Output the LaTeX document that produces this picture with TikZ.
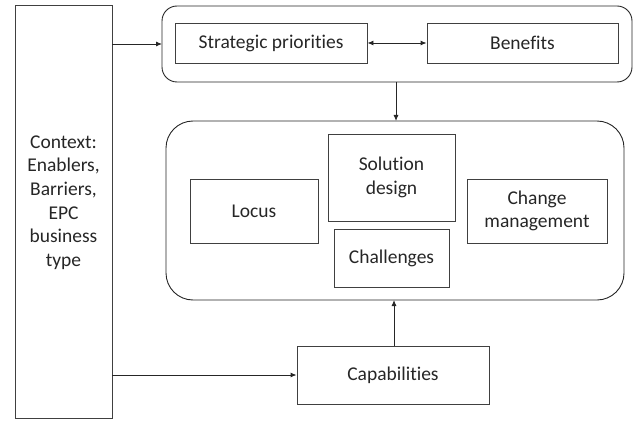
\documentclass[tikz,border=0pt]{standalone}
\usepackage{fontspec}
\setmainfont{Carlito}[Ligatures=NoCommon]
\usetikzlibrary{arrows.meta}
\begin{document}
\begin{tikzpicture}[x=1pt,y=-1pt,
  every node/.style={font=\fontsize{19.5}{23.7}\selectfont, text=black!85},
  box/.style={draw=black!75, line width=0.9pt, inner sep=0pt, align=center},
  group/.style={draw=black!85, line width=0.9pt},
  conn/.style={draw=black!85, line width=0.9pt, -{Latex[length=6pt,width=5pt]}},
  biconn/.style={draw=black!85, line width=0.9pt, {Latex[length=6pt,width=5pt]}-{Latex[length=6pt,width=5pt]}}]
\useasboundingbox (0,0) rectangle (639,422);
% outer groups with rounded corners
\draw[group, rounded corners=15pt] (162,6) rectangle (632,82);
\draw[group, rounded corners=27pt] (166,121) rectangle (624,300);
\coordinate (top-s) at (396,82);
\coordinate (mid-n) at (396,121);
\coordinate (mid-s) at (394,300);
% context column
\node[box, minimum width=97pt, minimum height=413pt] (ctx) at (63.5,211.5) {};
\node[align=center] at (63.5,202.5) {Context:\\Enablers,\\Barriers,\\EPC\\business\\type};
% inner boxes
\node[box, minimum width=192pt, minimum height=40pt] (sp) at (271,43) {Strategic priorities};
\node[box, minimum width=191pt, minimum height=40pt] (ben) at (522.5,43) {Benefits};
\node[box, minimum width=128pt, minimum height=64pt] (loc) at (254,211) {Locus};
\node[box, minimum width=127pt, minimum height=87pt] (sol) at (391.5,177.5) {Solution\\design};
\node[box, minimum width=115pt, minimum height=58pt] (cha) at (391.5,258) {Challenges};
\node[box, minimum width=140pt, minimum height=64pt] (chm) at (537,211) {Change\\management};
\node[box, minimum width=192pt, minimum height=58pt] (cap) at (393,375) {Capabilities};
% connectors
\coordinate (top-w) at (162,44);
\draw[conn] (ctx.east |- top-w) -- (top-w);
\draw[conn] (ctx.east |- cap.west) -- (cap.west);
\draw[biconn] (sp.east) -- (ben.west);
\draw[conn] (top-s) -- (mid-n);
\draw[conn] (cap.north -| mid-s) -- (mid-s);
\end{tikzpicture}
\end{document}
